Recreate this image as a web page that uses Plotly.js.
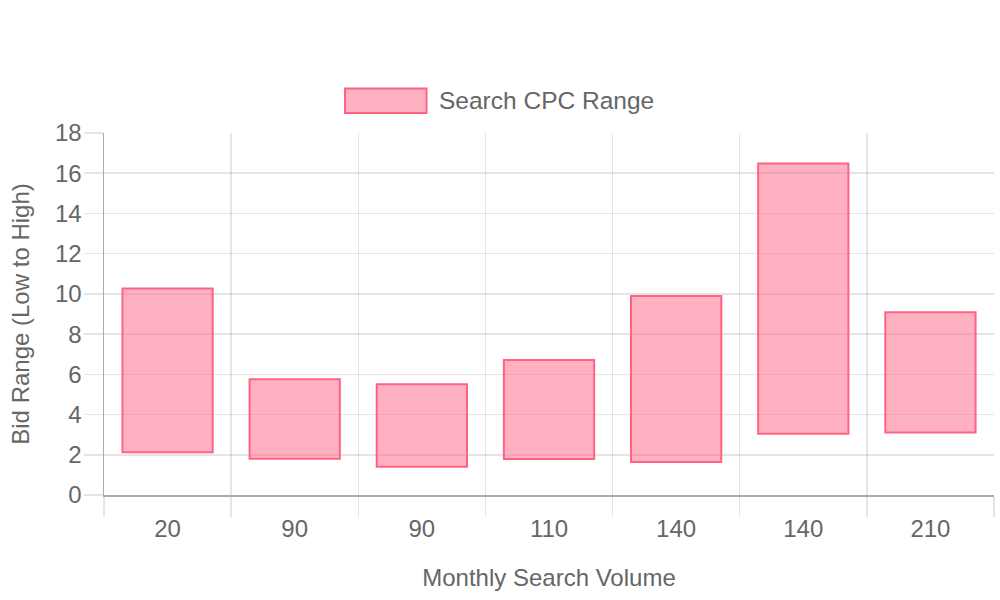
<!DOCTYPE html>
<html>
<head>
<meta charset="utf-8">
<script src="https://cdn.plot.ly/plotly-3.0.1.min.js"></script>
<style>html,body{margin:0;padding:0;background:#fff;}#chart{width:1000px;height:600px;}</style>
</head>
<body>
<div id="chart"></div>
<script>
const volumeLabels = ["20", "90", "90", "110", "140", "140", "210"];
const lowBids = [2.12, 1.80, 1.41, 1.79, 1.64, 3.05, 3.11];
const highBids = [10.27, 5.76, 5.51, 6.71, 9.90, 16.48, 9.09];
const yTicks = [0, 2, 4, 6, 8, 10, 12, 14, 16, 18];
const seriesName = "Search CPC Range";

const positions = volumeLabels.map((_, i) => i);
const spans = highBids.map((h, i) => h - lowBids[i]);

const textColor = "#666666";
const gridColor = "rgba(0,0,0,0.1)";
const fontFamily = "Liberation Sans, Arial, Helvetica, sans-serif";
const fs = 24;

const trace = {
  type: "bar",
  x: positions,
  y: spans,
  base: lowBids,
  width: 0.71,
  name: seriesName,
  marker: {
    color: "rgba(255,99,132,0.5)",
    line: {color: "rgb(255,99,132)", width: 2}
  },
  hoverinfo: "none",
  showlegend: false
};

const layout = {
  width: 1000,
  height: 600,
  margin: {l: 104, r: 6, t: 133, b: 105, pad: 0},
  paper_bgcolor: "#ffffff",
  plot_bgcolor: "#ffffff",
  font: {family: fontFamily, size: fs, color: textColor},
  xaxis: {
    range: [-0.5, 6.5],
    tickmode: "array",
    tickvals: positions,
    ticktext: volumeLabels,
    showgrid: false,
    zeroline: false,
    ticks: "outside",
    ticklen: 20,
    tickcolor: "rgba(0,0,0,0)",
    ticklabelstandoff: -8,
    tickfont: {size: fs, color: textColor},
    showline: true,
    linecolor: "#aaaaaa",
    linewidth: 1.5,
    minor: {
      tick0: 0.5,
      dtick: 1,
      showgrid: true,
      gridcolor: gridColor,
      gridwidth: 1.5,
      ticks: "outside",
      ticklen: 20,
      tickcolor: gridColor,
      tickwidth: 1.5
    },
    title: {text: "Monthly Search Volume", font: {size: fs, color: textColor}, standoff: 28},
    automargin: false,
    fixedrange: true
  },
  yaxis: {
    range: [0, 18],
    tickmode: "array",
    tickvals: yTicks,
    ticktext: yTicks.map(String),
    showgrid: true,
    gridcolor: gridColor,
    gridwidth: 1.5,
    zeroline: false,
    ticks: "outside",
    ticklen: 19,
    tickwidth: 1.5,
    tickcolor: gridColor,
    ticklabelstandoff: -3,
    tickfont: {size: fs, color: textColor},
    showline: true,
    linecolor: "#aaaaaa",
    linewidth: 1.5,
    title: {text: "Bid Range (Low to High)", font: {size: fs, color: textColor}, standoff: 18},
    automargin: false,
    fixedrange: true
  },
  shapes: [{
    type: "rect",
    xref: "paper", yref: "paper",
    x0: (345 - 104) / 890, x1: (426.5 - 104) / 890,
    y0: (495 - 113) / 362, y1: (495 - 88.5) / 362,
    fillcolor: "rgba(255,99,132,0.5)",
    line: {color: "rgb(255,99,132)", width: 2}
  }],
  annotations: [{
    xref: "paper", yref: "paper",
    x: (437 - 104) / 890, y: (495 - 100.5) / 362,
    xanchor: "left", yanchor: "middle",
    text: seriesName,
    showarrow: false,
    font: {size: 24.5, color: textColor}
  }]
};

Plotly.newPlot("chart", [trace], layout, {displayModeBar: false, staticPlot: true});
</script>
</body>
</html>
